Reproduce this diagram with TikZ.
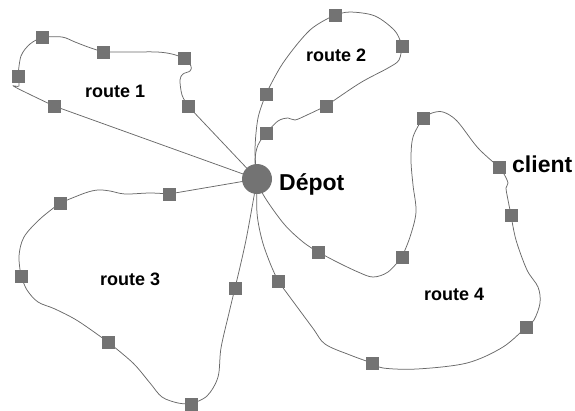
\documentclass[tikz,border=0pt]{standalone}
\usepackage{fontspec}
\setmainfont{Liberation Sans}
\definecolor{stopgray}{RGB}{115,115,115}
\definecolor{linegray}{RGB}{105,105,105}
\pgfdeclarelayer{background}
\pgfsetlayers{background,main}
\tikzset{
  stopbox/.style={rectangle, fill=stopgray, minimum size=13pt, inner sep=0pt},
  depot/.style={circle, fill=stopgray, minimum size=30pt, inner sep=0pt},
  route/.style={draw=linegray, line width=0.75pt},
  seg/.style={smooth, tension=0.55},
  lbl/.style={font=\bfseries\fontsize{18}{20}\selectfont, inner sep=0pt, anchor=base west},
  biglbl/.style={font=\bfseries\fontsize{23}{26}\selectfont, inner sep=0pt, anchor=base west},
}
\begin{document}
\begin{tikzpicture}[x=1pt, y=-1pt]
\useasboundingbox (0,0) rectangle (575,410);

% depot
\node[depot] (dep) at (257,179) {};

% route 1 stops
\node[stopbox] (s1a) at (42,37) {};
\node[stopbox] (s1b) at (103,52) {};
\node[stopbox] (s1c) at (184,58) {};
\node[stopbox] (s1d) at (188,106) {};
\node[stopbox] (s1e) at (18,76) {};
\node[stopbox] (s1f) at (54,106) {};

% route 2 stops
\node[stopbox] (s2a) at (266,94) {};
\node[stopbox] (s2b) at (335,15) {};
\node[stopbox] (s2c) at (402,46) {};
\node[stopbox] (s2d) at (326,106) {};
\node[stopbox] (s2e) at (266,133) {};

% route 3 stops
\node[stopbox] (s3a) at (169,194) {};
\node[stopbox] (s3b) at (60,203) {};
\node[stopbox] (s3c) at (21,276) {};
\node[stopbox] (s3d) at (108,342) {};
\node[stopbox] (s3e) at (191,404) {};
\node[stopbox] (s3f) at (235,288) {};

% route 4 stops
\node[stopbox] (s4a) at (318,252) {};
\node[stopbox] (s4b) at (402,257) {};
\node[stopbox] (s4c) at (423,118) {};
\node[stopbox] (s4d) at (499,167) {};
\node[stopbox] (s4e) at (511,215) {};
\node[stopbox] (s4f) at (526,327) {};
\node[stopbox] (s4g) at (372,363) {};
\node[stopbox] (s4h) at (278,281) {};

% labels
\node[lbl] (l1) at (85,97) {route 1};
\node[lbl] (l2) at (306,61) {route 2};
\node[lbl] (l3) at (100,285) {route 3};
\node[lbl] (l4) at (424,300) {route 4};
\node[biglbl] (ldep) at (279,190) {Dépot};
\node[biglbl] (lcli) at (512,172) {client};

\begin{pgfonlayer}{background}
% route 1
\draw[route] (dep.center) -- (s1f.center);
\draw[route] plot[seg] coordinates {(s1f.center) (15,87) (19,86) (s1e.center)};
\draw[route] plot[seg] coordinates {(s1e.center) (21,56) (30,44) (s1a.center)};
\draw[route] plot[seg] coordinates {(s1a.center) (62,37) (75,42) (88,47) (s1b.center)};
\draw[route] plot[seg] coordinates {(s1b.center) (130,52) (157,52) (172,54) (s1c.center)};
\draw[route] plot[seg] coordinates {(s1c.center) (191,66) (190,71) (183,74) (180,80) (182,95) (s1d.center)};
\draw[route] (s1d.center) -- (dep.center);

% route 2
\draw[route] plot[seg] coordinates {(dep.center) (255,150) (258,118) (s2a.center)};
\draw[route] plot[seg] coordinates {(s2a.center) (283,63) (310,30) (s2b.center)};
\draw[route] plot[seg] coordinates {(s2b.center) (350,12) (375,16) (395,31) (s2c.center)};
\draw[route] plot[seg] coordinates {(s2c.center) (399,60) (388,68) (360,83) (s2d.center)};
\draw[route] plot[seg] coordinates {(s2d.center) (307,115) (295,120) (288,118) (278,121) (s2e.center)};
\draw[route] plot[seg] coordinates {(s2e.center) (258,145) (255,160) (dep.center)};

% route 3
\draw[route] (dep.center) -- (s3a.center);
\draw[route] plot[seg] coordinates {(s3a.center) (150,193) (125,194) (110,191) (98,190) (85,193) (s3b.center)};
\draw[route] plot[seg] coordinates {(s3b.center) (40,219) (24,237) (19,256) (s3c.center)};
\draw[route] plot[seg] coordinates {(s3c.center) (27,290) (38,302) (55,309) (78,321) (s3d.center)};
\draw[route] plot[seg] coordinates {(s3d.center) (133,363) (150,383) (162,397) (178,403) (s3e.center)};
\draw[route] plot[seg] coordinates {(s3e.center) (207,396) (218,377) (221,348) (229,313) (s3f.center)};
\draw[route] plot[seg] coordinates {(s3f.center) (246,240) (dep.center)};

% route 4
\draw[route] plot[seg] coordinates {(dep.center) (264,196) (284,224) (303,242) (s4a.center)};
\draw[route] plot[seg] coordinates {(s4a.center) (337,262) (358,272) (373,277) (388,272) (s4b.center)};
\draw[route] plot[seg] coordinates {(s4b.center) (410,237) (416,212) (413,185) (411,160) (413,137) (s4c.center)};
\draw[route] plot[seg] coordinates {(s4c.center) (432,113) (443,112) (457,121) (478,148) (s4d.center)};
\draw[route] plot[seg] coordinates {(s4d.center) (504,174) (508,183) (506,188) (508,200) (s4e.center)};
\draw[route] plot[seg] coordinates {(s4e.center) (516,240) (527,270) (538,287) (540,303) (534,320) (s4f.center)};
\draw[route] plot[seg] coordinates {(s4f.center) (503,347) (467,363) (417,369) (383,368) (s4g.center)};
\draw[route] plot[seg] coordinates {(s4g.center) (350,355) (325,344) (312,327) (s4h.center)};
\draw[route] plot[seg] coordinates {(s4h.center) (270,263) (262,240) (257,213) (dep.center)};
\end{pgfonlayer}
\end{tikzpicture}
\end{document}
